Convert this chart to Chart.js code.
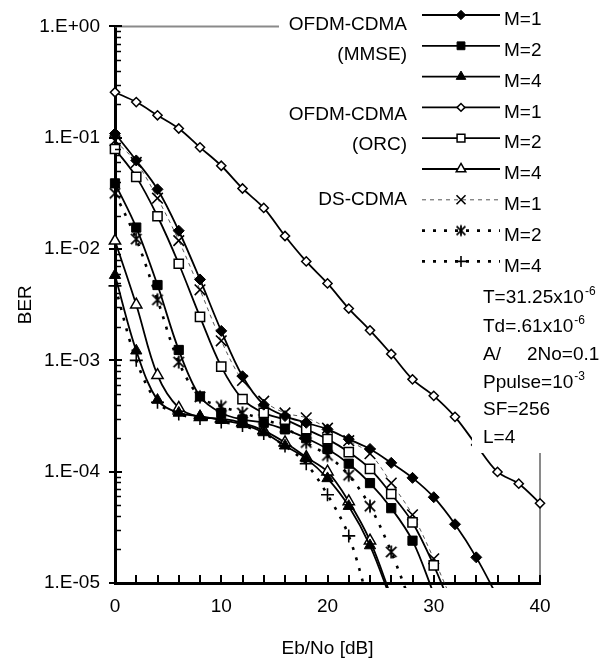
<!DOCTYPE html>
<html>
<head>
<meta charset="utf-8">
<script src="https://cdn.jsdelivr.net/npm/chart.js@4.4.0/dist/chart.umd.min.js"></script>
<style>
html,body{margin:0;padding:0;background:#fff;}
#wrap{position:relative;width:601px;height:664px;}
</style>
</head>
<body>
<div id="wrap"><canvas id="c" width="601" height="664"></canvas></div>
<script>
const FONT = "'Liberation Sans', Arial, sans-serif";

// Eb/No [dB] sample points
const ebno = [0,2,4,6,8,10,12,14,16,18,20,22,24,26,28,30,32,34,36,38,40];

// OFDM-CDMA (MMSE)
const berMmseM1 = [0.109,0.0625,0.0344,0.0146,0.00533,0.00184,7.2e-4,4.0e-4,3.16e-4,2.75e-4,2.4e-4,1.96e-4,1.6e-4,1.2e-4,8.8e-5,5.9e-5,3.37e-5,1.7e-5,7.5e-6];
const berMmseM2 = [0.0389,0.0156,0.00475,0.00124,4.74e-4,3.37e-4,2.94e-4,2.75e-4,2.4e-4,2.0e-4,1.6e-4,1.18e-4,7.9e-5,4.7e-5,2.4e-5,8.0e-6];
const berMmseM4 = [0.00582,0.00122,4.4e-4,3.37e-4,3.15e-4,2.9e-4,2.66e-4,2.25e-4,1.71e-4,1.31e-4,8.7e-5,4.9e-5,2.17e-5,7.0e-6];

// OFDM-CDMA (ORC)
const berOrcM1 = [0.256,0.209,0.159,0.121,0.082,0.056,0.035,0.0234,0.0131,0.00774,0.00491,0.00292,0.00186,0.00114,6.75e-4,4.8e-4,3.11e-4,1.74e-4,9.95e-5,7.8e-5,5.2e-5];
const berOrcM2 = [0.0792,0.0445,0.0197,0.00738,0.00246,8.8e-4,4.49e-4,3.37e-4,2.94e-4,2.4e-4,1.96e-4,1.5e-4,1.06e-4,6.3e-5,3.5e-5,1.44e-5,5.0e-6];
const berOrcM4 = [0.01186,0.00316,7.36e-4,3.74e-4,3.09e-4,3.0e-4,2.75e-4,2.34e-4,1.83e-4,1.35e-4,1.0e-4,5.4e-5,2.4e-5,7.5e-6];

// DS-CDMA
const berDsM1 = [0.094,0.06,0.0286,0.0119,0.0043,0.0015,6.6e-4,4.3e-4,3.37e-4,3.05e-4,2.46e-4,1.9e-4,1.45e-4,7.9e-5,4.1e-5,1.65e-5,6.0e-6];
const berDsM2 = [0.0317,0.0123,0.0035,9.66e-4,4.7e-4,3.86e-4,3.37e-4,2.95e-4,2.5e-4,1.83e-4,1.4e-4,9.3e-5,4.9e-5,1.9e-5,6.0e-6];
const berDsM4 = [0.00467,1.0e-3,4.2e-4,3.3e-4,3.0e-4,2.8e-4,2.6e-4,2.2e-4,1.7e-4,1.18e-4,6.2e-5,2.65e-5,6.0e-6];

const seriesLabels = ['M=1','M=2','M=4','M=1','M=2','M=4','M=1','M=2','M=4'];
const groupLabels = ['OFDM-CDMA','(MMSE)','OFDM-CDMA','(ORC)','DS-CDMA'];
const yTickValues = [1e-5,1e-4,1e-3,1e-2,1e-1,1];
const yTickLabels = ['1.E-05','1.E-04','1.E-03','1.E-02','1.E-01','1.E+00'];
const xTickValues = [0,10,20,30,40];
const xMinorStep = 2;

function toXY(vals){ return vals.map((v,i)=>({x: ebno[i], y: v})); }

// 6-armed asterisk marker for DS-CDMA M=2
function asteriskCanvas(size){
  const c = document.createElement('canvas');
  c.width = size; c.height = size;
  const g = c.getContext('2d');
  const h = size/2, a = size/2 - 1.5;
  g.strokeStyle = '#000'; g.lineWidth = 1.8;
  g.beginPath();
  g.moveTo(h - a*0.8, h - a*0.8); g.lineTo(h + a*0.8, h + a*0.8);
  g.moveTo(h + a*0.8, h - a*0.8); g.lineTo(h - a*0.8, h + a*0.8);
  g.moveTo(h, h - a); g.lineTo(h, h + a);
  g.stroke();
  return c;
}
const astBig = asteriskCanvas(16);
const astSmall = asteriskCanvas(14);

function solid(data, style, radius, filled){
  return {
    data: toXY(data), borderColor:'#000', borderWidth:1.8, tension:0.35,
    pointStyle: style, pointRadius: radius, pointHoverRadius: radius,
    pointBackgroundColor: filled ? '#000' : '#fff', pointBorderColor:'#000',
    pointBorderWidth: filled ? 1 : 1.5
  };
}
function dashed(data, style, radius, thin){
  return {
    data: toXY(data), borderColor: thin ? '#555' : '#000', borderWidth: thin ? 1 : 2.6,
    borderDash: thin ? [4,4] : [3,8], tension:0.35,
    pointStyle: style, pointRadius: radius, pointHoverRadius: radius,
    pointBackgroundColor:'#000', pointBorderColor:'#000', pointBorderWidth:1.6
  };
}

const datasets = [
  solid(berMmseM1,'rectRot',5.5,true),
  solid(berMmseM2,'rect',6.5,true),
  solid(berMmseM4,'triangle',6.5,true),
  solid(berOrcM1,'rectRot',4.6,false),
  solid(berOrcM2,'rect',6.5,false),
  solid(berOrcM4,'triangle',6.5,false),
  dashed(berDsM1,'crossRot',7.5,true),
  dashed(berDsM2,astBig,7.5,false),
  dashed(berDsM4,'cross',6.5,false)
];
datasets.forEach((d,i)=>{ d.label = seriesLabels[i]; d.clip = {left:12,right:12,top:5,bottom:5}; });

function drawPt(ctx, ds, x, y, r){
  const style = ds.pointStyle === astBig ? astSmall : ds.pointStyle;
  if (Chart.helpers && Chart.helpers.drawPoint) {
    Chart.helpers.drawPoint(ctx, {pointStyle: style, rotation:0, radius:r, borderWidth: ds.pointBorderWidth}, x, y);
  }
}

const decor = {
  id:'decor',
  beforeDatasetsDraw(chart){
    const {ctx, chartArea:a} = chart;
    ctx.save();
    ctx.strokeStyle = '#8a8a8a'; ctx.lineWidth = 2;
    ctx.beginPath();
    ctx.moveTo(a.left, a.top); ctx.lineTo(a.right, a.top);
    ctx.moveTo(a.right, a.top); ctx.lineTo(a.right, a.bottom);
    ctx.stroke();
    ctx.restore();
  },
  afterDatasetsDraw(chart){
    const {ctx, chartArea:a, scales:{x, y}} = chart;
    ctx.save();
    // white text boxes (legend, labels, notes)
    ctx.fillStyle = '#fff';
    ctx.fillRect(279, 0, 601-279, 211);
    ctx.fillRect(414, 0, 601-414, 279);
    ctx.fillRect(472, 279, 601-472, 174);

    // axis tick marks (inside)
    ctx.strokeStyle = '#000';
    ctx.lineWidth = 2;
    ctx.beginPath();
    for (let v = x.min; v <= x.max; v += xMinorStep) {
      const px = Math.round(x.getPixelForValue(v));
      ctx.moveTo(px, a.bottom); ctx.lineTo(px, a.bottom - 8);
    }
    ctx.stroke();
    ctx.lineWidth = 1.5;
    ctx.beginPath();
    for (let n = -5; n < 0; n++) {
      for (let k = 2; k <= 9; k++) {
        const py = Math.round(y.getPixelForValue(k*Math.pow(10,n))) + 0.5;
        ctx.moveTo(a.left, py); ctx.lineTo(a.left + 6, py);
      }
    }
    ctx.stroke();
    ctx.lineWidth = 2;
    ctx.beginPath();
    yTickValues.forEach(v=>{
      const py = Math.round(y.getPixelForValue(v));
      ctx.moveTo(a.left - 6, py); ctx.lineTo(a.left + 7, py);
    });
    ctx.stroke();

    // legend
    const L = {x0:422, x1:500, mx:461, tx:504, y0:15, dy:30.8};
    ctx.font = '19px ' + FONT;
    chart.data.datasets.forEach((ds,i)=>{
      const yy = L.y0 + i*L.dy;
      ctx.save();
      ctx.strokeStyle = ds.borderColor; ctx.lineWidth = ds.borderWidth;
      ctx.setLineDash(ds.borderDash || []);
      ctx.beginPath(); ctx.moveTo(L.x0, yy); ctx.lineTo(L.x1, yy); ctx.stroke();
      ctx.setLineDash([]);
      ctx.fillStyle = ds.pointBackgroundColor; ctx.strokeStyle = ds.pointBorderColor; ctx.lineWidth = ds.pointBorderWidth;
      drawPt(ctx, ds, L.mx, yy, ds.pointRadius*0.85);
      ctx.restore();
      ctx.fillStyle = '#000'; ctx.textAlign = 'left'; ctx.textBaseline = 'middle';
      ctx.fillText(seriesLabels[i], L.tx, yy + 5);
    });
    // group labels
    const gy = [25,55,115,145,200];
    ctx.textAlign = 'right'; ctx.textBaseline = 'middle'; ctx.fillStyle = '#000';
    groupLabels.forEach((t,i)=> ctx.fillText(t, 407, gy[i]));

    // parameter notes
    ctx.textAlign = 'left'; ctx.textBaseline = 'alphabetic';
    const nx = 483;
    function sup(main, s, xx, yy){
      ctx.font = '19px ' + FONT;
      ctx.fillText(main, xx, yy);
      const w = ctx.measureText(main).width;
      ctx.font = '12px ' + FONT;
      ctx.fillText(s, xx + w + 1, yy - 8);
      ctx.font = '19px ' + FONT;
    }
    sup('T=31.25x10', '-6', nx, 303);
    sup('Td=.61x10', '-6', nx, 332);
    ctx.fillText('A/', nx, 360);
    ctx.fillText('2No=0.1', 527, 360);
    sup('Ppulse=10', '-3', nx, 388);
    ctx.fillText('SF=256', nx, 415);
    ctx.fillText('L=4', nx, 443);
    ctx.restore();
  }
};

new Chart(document.getElementById('c'), {
  type:'line',
  data:{ datasets },
  options:{
    responsive:false, animation:false, devicePixelRatio:1,
    layout:{ padding:{left:0, right:61, top:17, bottom:0} },
    plugins:{ legend:{display:false}, tooltip:{enabled:false} },
    scales:{
      x:{
        type:'linear', min:0, max:40,
        afterBuildTicks: s => { s.ticks = xTickValues.map(v=>({value:v})); },
        ticks:{ font:{family:FONT, size:19}, color:'#000', padding:12, maxRotation:0, autoSkip:false },
        grid:{ display:false, drawTicks:false },
        border:{ display:true, width:3, color:'#000' },
        title:{ display:true, text:'Eb/No [dB]', font:{family:FONT, size:19}, color:'#000', padding:{top:0, bottom:4} },
        afterFit: s => { s.height = 81; }
      },
      y:{
        type:'logarithmic', min:1e-5, max:1,
        afterBuildTicks: s => { s.ticks = yTickValues.map(v=>({value:v, major:true})); },
        ticks:{
          font:{family:FONT, size:19}, color:'#000', padding:15, autoSkip:false,
          callback: v => {
            const i = yTickValues.findIndex(t => Math.abs(Math.log10(t) - Math.log10(v)) < 1e-6);
            return i >= 0 ? yTickLabels[i] : '';
          }
        },
        grid:{ display:false, drawTicks:false },
        border:{ display:true, width:3, color:'#000' },
        title:{ display:true, text:'BER', font:{family:FONT, size:19}, color:'#000', padding:{top:14, bottom:0} },
        afterFit: s => { s.width = 115; }
      }
    }
  },
  plugins:[decor]
});
</script>
</body>
</html>
